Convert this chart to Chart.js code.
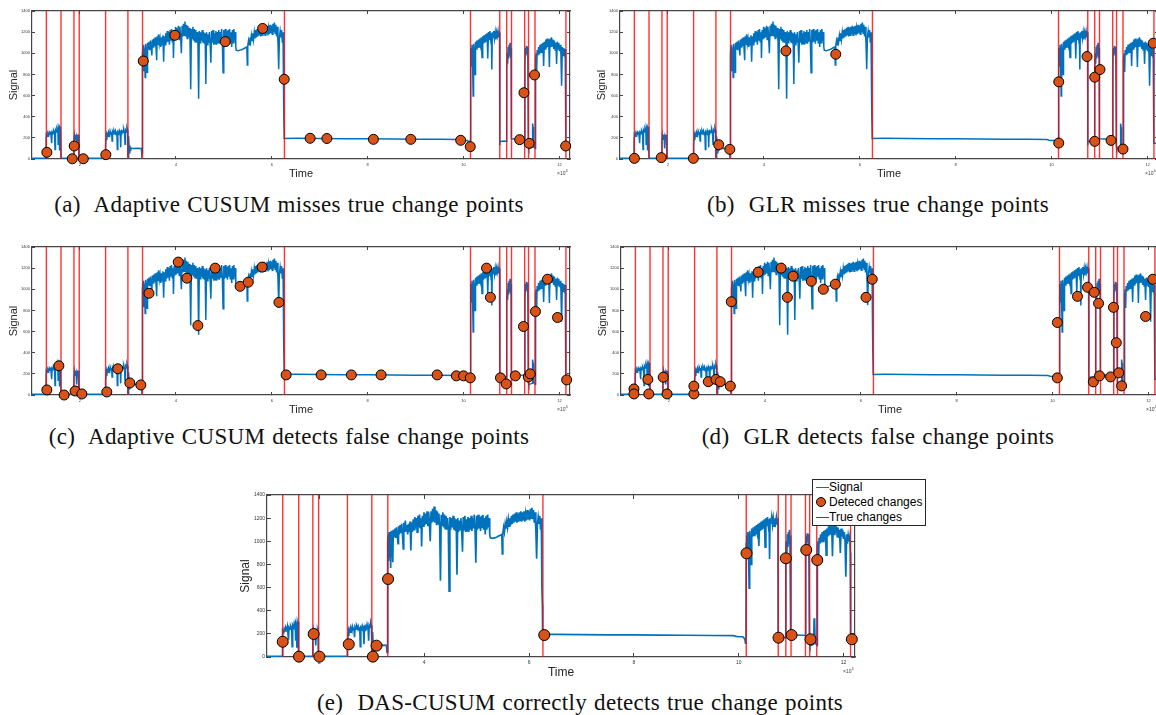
<!DOCTYPE html>
<html>
<head>
<meta charset="utf-8">
<script src="https://cdn.jsdelivr.net/npm/chart.js@4.4.0/dist/chart.umd.min.js"></script>
<style>
  body { margin: 0; width: 1156px; height: 715px; background: #fff; position: relative; overflow: hidden; }
  canvas { position: absolute; }
  .cap { position: absolute; transform: translateX(-50%); font-family: 'Liberation Serif', serif; font-size: 23px; line-height: 26px; letter-spacing: 0.3px; word-spacing: 1px; color: #111; white-space: nowrap; }
  .exp { position: absolute; font-family: 'Liberation Sans', Arial, sans-serif; font-size: 5px; color: #444; }
  .exp sup { font-size: 4px; }
  #legend { position: absolute; left: 812px; top: 479px; width: 112px; height: 45px; border: 1px solid #262626; background: #fff;
            font-family: 'Liberation Sans', Arial, sans-serif; font-size: 12px; color: #000; }
  #legend .row { position: relative; height: 15px; line-height: 15px; padding-left: 16px; }
  #legend .ln { position: absolute; left: 3px; top: 7px; width: 13px; height: 1px; }
  #legend .dot { position: absolute; left: 3px; top: 2px; width: 10px; height: 10px; border-radius: 50%; background: #D95319; border: 1px solid #000; box-sizing: border-box; }
</style>
</head>
<body>
<canvas id="pa" width="580" height="185" style="left:0px;top:0px"></canvas>
<canvas id="pb" width="580" height="185" style="left:588px;top:0px"></canvas>
<canvas id="pc" width="580" height="185" style="left:0px;top:236px"></canvas>
<canvas id="pd" width="580" height="185" style="left:589px;top:236px"></canvas>
<canvas id="pe" width="638" height="210" style="left:232px;top:480px"></canvas>

<div class="exp" style="left:557px;top:168px">×10<sup>4</sup></div>
<div class="exp" style="left:1145px;top:168px">×10<sup>4</sup></div>
<div class="exp" style="left:557px;top:404px">×10<sup>4</sup></div>
<div class="exp" style="left:1146px;top:404px">×10<sup>4</sup></div>
<div class="exp" style="left:843px;top:666px">×10<sup>4</sup></div>

<div class="cap" style="left:289px;top:192px">(a)&nbsp; Adaptive CUSUM misses true change points</div>
<div class="cap" style="left:878px;top:192px">(b)&nbsp; GLR misses true change points</div>
<div class="cap" style="left:289px;top:424px">(c)&nbsp; Adaptive CUSUM detects false change points</div>
<div class="cap" style="left:878px;top:424px">(d)&nbsp; GLR detects false change points</div>
<div class="cap" style="left:580px;top:690px">(e)&nbsp; DAS-CUSUM correctly detects true change points</div>

<div id="legend">
  <div class="row"><span class="ln" style="background:#0072BD"></span>Signal</div>
  <div class="row"><span class="dot"></span>Deteced changes</div>
  <div class="row"><span class="ln" style="background:#FF0000"></span>True changes</div>
</div>

<script>
// colours (MATLAB defaults)
let blue = "#0072BD";
let orange = "#D95319";
let red = "rgba(255, 0, 0, 0.8)";
let axisGrey = "#454545";
let sans = "'Liberation Sans', Arial, sans-serif";

// axes (time in units of 1e4 samples)
const xTicks = [2, 4, 6, 8, 10, 12];
const yTicks = [0, 200, 400, 600, 800, 1000, 1200, 1400];

// true change points, same in every panel
const trueChanges = [1.30, 1.605, 1.875, 1.985, 2.535, 3.0, 3.305, 6.265, 10.145, 10.755, 10.90, 11.0, 11.275, 11.355, 11.49, 12.135];

// signal [time, value]
const signal = [
  [1.00,6],[1.29,6],[1.295,200],[1.30,230],[1.32,215],[1.33,245],[1.35,225],[1.36,255],[1.38,235],[1.39,260],
  [1.41,150],[1.42,255],[1.44,240],[1.45,270],[1.47,250],[1.48,90],[1.49,275],[1.51,255],[1.52,290],[1.54,265],
  [1.545,140],[1.55,295],[1.565,270],[1.57,80],[1.58,300],[1.59,280],[1.595,305],[1.60,250],[1.605,6],[1.87,6],
  [1.875,170],[1.885,225],[1.895,195],[1.90,230],[1.91,180],[1.92,215],[1.93,100],[1.94,220],[1.955,200],[1.965,230],
  [1.975,210],[1.98,6],[2.53,6],[2.535,130],[2.55,210],[2.56,180],[2.57,240],[2.59,215],[2.60,250],[2.62,225],
  [2.63,265],[2.65,235],[2.66,255],[2.67,170],[2.68,260],[2.70,240],[2.71,270],[2.73,245],[2.74,265],[2.76,230],
  [2.77,260],[2.78,90],[2.79,255],[2.81,240],[2.82,270],[2.84,245],[2.85,110],[2.86,275],[2.87,230],[2.88,265],
  [2.90,250],[2.91,280],[2.93,240],[2.94,140],[2.95,275],[2.97,255],[2.98,295],[2.995,270],[3.00,30],[3.005,10],
  [3.01,150],[3.02,215],[3.03,60],[3.04,130],[3.05,80],[3.06,105],[3.10,100],[3.20,102],[3.28,100],[3.29,40],
  [3.30,60],[3.302,900],[3.305,1000],[3.315,1060],[3.32,830],[3.33,1080],[3.345,1020],[3.36,770],[3.37,1090],[3.385,1030],
  [3.40,820],[3.41,1100],[3.425,1040],[3.44,1110],[3.455,1030],[3.47,1120],[3.485,1050],[3.50,980],[3.51,1130],[3.525,1060],
  [3.54,1140],[3.555,1070],[3.57,1150],[3.585,1060],[3.60,935],[3.61,1160],[3.625,1080],[3.64,1180],[3.655,1090],[3.67,1140],
  [3.685,1060],[3.70,1150],[3.715,1080],[3.73,1170],[3.745,920],[3.76,1160],[3.775,1080],[3.79,1190],[3.805,1100],[3.82,1210],
  [3.835,1110],[3.85,1200],[3.865,1080],[3.88,1220],[3.895,1120],[3.91,1230],[3.925,1110],[3.94,1200],[3.95,955],[3.965,1220],
  [3.98,1130],[3.995,1250],[4.01,1140],[4.025,1240],[4.04,1150],[4.055,1260],[4.07,1130],[4.085,1250],[4.10,1150],[4.115,1000],
  [4.13,1260],[4.145,1160],[4.16,1280],[4.175,1170],[4.19,1300],[4.205,1160],[4.22,1270],[4.235,1140],[4.25,1260],[4.265,1150],
  [4.28,1240],[4.295,1120],[4.31,660],[4.325,1230],[4.34,1140],[4.355,1250],[4.37,1120],[4.385,1230],[4.40,1110],[4.415,1220],
  [4.43,1100],[4.445,1200],[4.46,1110],[4.475,570],[4.49,1210],[4.505,1100],[4.52,1200],[4.535,1120],[4.55,1220],[4.565,1100],
  [4.58,1200],[4.595,1090],[4.61,1190],[4.625,710],[4.64,1200],[4.655,1080],[4.67,1180],[4.685,1100],[4.70,1200],[4.715,1090],
  [4.73,910],[4.745,1210],[4.76,1100],[4.775,1220],[4.79,1080],[4.805,1190],[4.82,1090],[4.835,1210],[4.85,1080],[4.865,1200],
  [4.88,1100],[4.895,1220],[4.91,1090],[4.925,1200],[4.94,1110],[4.955,1230],[4.97,1100],[4.985,815],[5.00,1220],[5.015,1100],
  [5.03,1230],[5.045,1110],[5.06,1210],[5.075,1090],[5.09,1220],[5.105,1120],[5.12,1230],[5.135,1100],[5.15,1200],[5.165,1060],
  [5.18,1220],[5.195,1100],[5.21,1230],[5.225,1120],[5.24,1200],[5.25,1060],[5.26,1030],[5.30,1025],[5.34,1030],[5.38,1035],
  [5.42,1045],[5.46,1055],[5.48,1060],[5.49,890],[5.50,1070],[5.515,1120],[5.53,1080],[5.545,1150],[5.56,1110],[5.575,1170],
  [5.59,1120],[5.605,1190],[5.62,1130],[5.635,1200],[5.65,1140],[5.665,1220],[5.68,1150],[5.695,1230],[5.71,1160],[5.725,1240],
  [5.74,1170],[5.755,1250],[5.77,1160],[5.785,1240],[5.80,1170],[5.815,1250],[5.83,1180],[5.845,1260],[5.86,1170],[5.875,1250],
  [5.89,1180],[5.905,1260],[5.92,1170],[5.935,1240],[5.95,1180],[5.965,1270],[5.98,1190],[5.995,1260],[6.01,1180],[6.025,1280],
  [6.04,1200],[6.055,1290],[6.07,1190],[6.085,1270],[6.10,1160],[6.115,1250],[6.13,1100],[6.145,850],[6.16,1150],[6.175,1210],
  [6.19,1150],[6.205,1220],[6.22,1100],[6.235,1200],[6.245,600],[6.255,450],[6.26,195],[6.5,196],[7.0,194],[7.5,192],
  [8.0,191],[8.5,189],[9.0,188],[9.5,186],[9.9,184],[9.95,178],[10.0,176],[10.08,175],[10.10,165],[10.12,150],
  [10.13,120],[10.14,175],[10.145,980],[10.155,1050],[10.165,880],[10.175,1080],[10.185,1000],[10.20,595],[10.21,1090],[10.225,1020],
  [10.24,800],[10.25,1110],[10.265,1040],[10.28,1120],[10.295,1050],[10.31,1130],[10.325,1060],[10.34,1140],[10.355,1080],[10.37,1150],
  [10.385,960],[10.40,1160],[10.415,1090],[10.43,1170],[10.445,1100],[10.46,1180],[10.475,1110],[10.49,1190],[10.505,950],[10.52,1200],
  [10.535,1130],[10.55,1210],[10.565,1140],[10.58,1190],[10.59,846],[10.60,1200],[10.615,1150],[10.63,1210],[10.645,1140],[10.66,1200],
  [10.675,1130],[10.69,1200],[10.705,1160],[10.72,1210],[10.735,1150],[10.75,1200],[10.755,130],[10.76,165],[10.80,168],[10.85,170],
  [10.895,165],[10.90,850],[10.91,1000],[10.92,900],[10.93,1060],[10.94,950],[10.95,1080],[10.96,980],[10.97,1100],[10.98,960],
  [10.99,1050],[10.995,190],[11.0,192],[11.1,190],[11.2,188],[11.275,186],[11.28,900],[11.29,1050],[11.30,980],[11.31,1070],
  [11.32,1000],[11.33,1060],[11.34,950],[11.35,120],[11.36,100],[11.40,105],[11.43,110],[11.44,335],[11.45,300],[11.46,120],
  [11.48,110],[11.495,100],[11.50,700],[11.505,950],[11.515,1000],[11.525,823],[11.535,1030],[11.55,980],[11.565,1060],[11.58,990],
  [11.595,1080],[11.61,1000],[11.625,1090],[11.64,1010],[11.655,1100],[11.67,880],[11.685,1110],[11.70,1040],[11.715,1130],[11.73,1050],
  [11.745,1140],[11.76,1060],[11.775,1130],[11.79,870],[11.805,1140],[11.82,1060],[11.835,1150],[11.85,1070],[11.865,1130],[11.88,1040],
  [11.895,1120],[11.91,1030],[11.925,1100],[11.94,900],[11.955,1110],[11.97,1040],[11.985,1100],[12.00,1020],[12.015,1080],[12.03,1000],
  [12.045,694],[12.06,1060],[12.075,980],[12.09,1050],[12.105,1000],[12.12,1040],[12.13,900],[12.135,150],[12.14,150],[12.22,148]
];

// detected change points for each method [time, value]
const detectedA = [[1.31,63],[1.84,2],[1.88,123],[2.07,2],[2.54,41],[3.32,927],[3.98,1170],[5.03,1110],[5.81,1235],[6.26,754],
  [6.80,196],[7.15,194],[8.12,186],[8.90,186],[9.94,177],[10.14,117],[11.17,183],[11.26,627],[11.37,148],[11.48,795],[12.13,123]];
const detectedB = [[1.30,6],[1.86,13],[2.53,6],[3.06,135],[3.29,91],[4.46,1022],[5.50,991],[10.15,730],[10.15,151],[10.74,969],
  [10.90,774],[10.90,167],[11.01,846],[11.24,176],[11.49,94],[12.12,1095]];
const detectedC = [[1.31,48],[1.56,276],[1.67,0],[1.90,38],[2.04,10],[2.56,29],[2.79,248],[3.04,114],[3.27,95],[3.44,962],
  [4.05,1257],[4.23,1105],[4.46,657],[4.82,1200],[5.34,1028],[5.51,1067],[5.80,1210],[6.15,876],[6.30,190],[7.03,190],
  [7.66,190],[8.28,190],[9.45,190],[9.85,181],[10.0,181],[10.14,162],[10.48,1200],[10.56,924],[10.77,162],[10.89,105],
  [11.08,181],[11.25,648],[11.35,171],[11.39,200],[11.50,790],[11.75,1095],[11.96,733],[12.15,143]];
const detectedD = [[1.27,57],[1.27,10],[1.56,147],[1.58,10],[1.88,168],[1.96,10],[2.52,10],[2.52,84],[2.82,126],[2.98,147],
  [3.07,126],[3.28,84],[3.30,882],[3.86,1162],[4.34,1200],[4.47,924],[4.59,1124],[4.97,1076],[5.22,1000],[5.47,1048],
  [6.11,924],[6.24,1095],[10.10,686],[10.10,162],[10.52,933],[10.73,1019],[10.85,124],[10.87,971],[10.96,867],[10.98,181],
  [11.21,171],[11.27,829],[11.33,495],[11.38,210],[11.44,86],[11.94,743],[12.09,1095]];
const detectedE = [[1.30,132],[1.61,3],[1.89,199],[2.00,3],[2.56,110],[3.02,3],[3.09,98],[3.31,674],[6.29,190],[10.15,896],
  [10.76,167],[10.90,853],[11.01,190],[11.29,925],[11.37,153],[11.50,838],[12.16,153]];

let small = { yw: 32, xh: 26, top: 11, right: 10, tick: 4, title: 11, sigPad: 7, timePad: 4, radius: 5, line: 1.5, mark: 3 };
let large = { yw: 35, xh: 33, top: 15, right: 15, tick: 5, title: 12, sigPad: 6.5, timePad: 10, radius: 5.5, line: 1.7, mark: 4 };

// grid settings that give MATLAB-style inward tick marks and a box border
function boxGrid(g) {
  return { display: true, drawOnChartArea: false, drawTicks: true, tickLength: -g.mark, color: axisGrey, lineWidth: 1 };
}
let boxBorder = { display: true, color: axisGrey, width: 1.2 };

function drawPanel(id, detected, g) {
  let lines = [];
  trueChanges.forEach(t => lines.push({x: t, y: 0}, {x: t, y: 1400}, {x: t, y: null}));
  let xTickSet = s => { s.ticks = xTicks.map(v => ({value: v})); };
  let yTickSet = s => { s.ticks = yTicks.map(v => ({value: v})); };
  new Chart(document.getElementById(id).getContext('2d'), {
    type: 'scatter',
    data: {
      datasets: [{
        data: detected.map(p => ({x: p[0], y: p[1]})),
        backgroundColor: orange,
        borderColor: '#000',
        borderWidth: 1,
        pointRadius: g.radius,
        clip: false
      }, {
        data: lines,
        showLine: true,
        spanGaps: false,
        borderColor: red,
        borderWidth: 1.4,
        pointRadius: 0
      }, {
        data: signal.map(p => ({x: p[0], y: p[1]})),
        showLine: true,
        borderColor: blue,
        borderWidth: g.line,
        pointRadius: 0
      }]
    },
    options: {
      responsive: false,
      animation: false,
      devicePixelRatio: 1,
      events: [],
      layout: { padding: { top: g.top, right: g.right, left: 0, bottom: 0 } },
      plugins: {
        legend: { display: false },
        tooltip: { enabled: false }
      },
      scales: {
        x: {
          type: 'linear', min: 1.0, max: 12.22, position: 'bottom',
          afterBuildTicks: xTickSet,
          afterFit: s => { s.height = g.xh; },
          grid: boxGrid(g),
          border: boxBorder,
          ticks: { font: { size: g.tick, family: sans }, color: '#333', padding: 3 + g.mark, maxRotation: 0, autoSkip: false, callback: v => String(v) },
          title: { display: true, text: 'Time', color: '#262626', font: { size: g.title, family: sans }, padding: { top: 0, bottom: g.timePad } }
        },
        x2: {
          type: 'linear', axis: 'x', min: 1.0, max: 12.22, position: 'top',
          afterBuildTicks: xTickSet,
          afterFit: s => { s.height = 0; },
          grid: boxGrid(g),
          border: boxBorder,
          ticks: { display: false }
        },
        y: {
          type: 'linear', min: 0, max: 1400, position: 'left',
          afterBuildTicks: yTickSet,
          afterFit: s => { s.width = g.yw; },
          grid: boxGrid(g),
          border: boxBorder,
          ticks: { font: { size: g.tick, family: sans }, color: '#333', padding: 2 + g.mark, autoSkip: false, callback: v => String(v) },
          title: { display: true, text: 'Signal', color: '#262626', font: { size: g.title, family: sans }, padding: { top: g.sigPad, bottom: 0 } }
        },
        y2: {
          type: 'linear', axis: 'y', min: 0, max: 1400, position: 'right',
          afterBuildTicks: yTickSet,
          afterFit: s => { s.width = 0; },
          grid: boxGrid(g),
          border: boxBorder,
          ticks: { display: false }
        }
      }
    }
  });
}

drawPanel('pa', detectedA, small);
drawPanel('pb', detectedB, small);
drawPanel('pc', detectedC, small);
drawPanel('pd', detectedD, small);
drawPanel('pe', detectedE, large);
</script>
</body>
</html>
